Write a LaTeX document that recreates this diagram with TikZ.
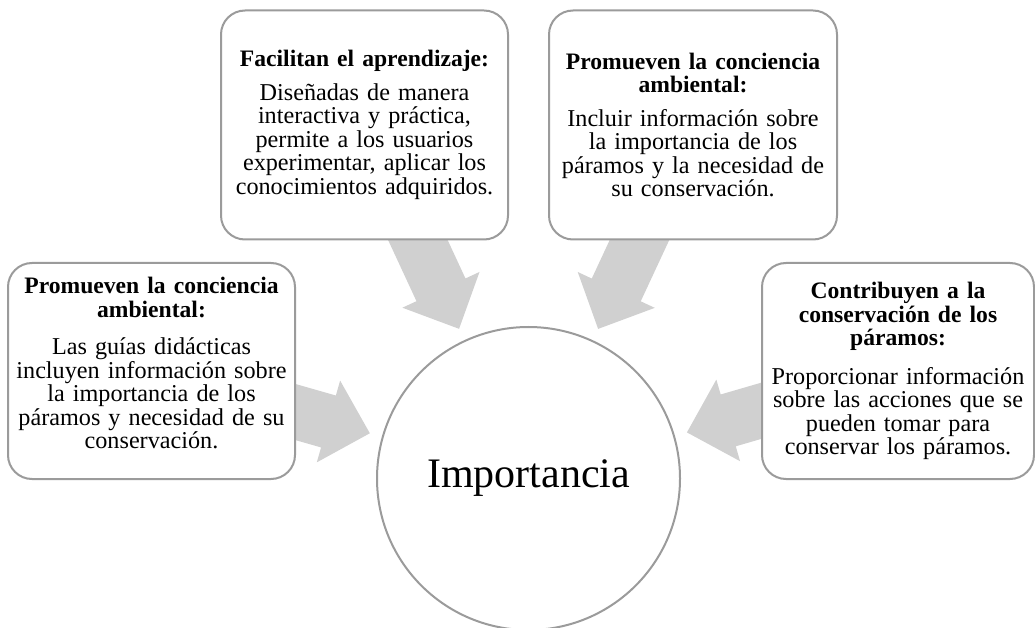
\documentclass[tikz,border=0pt]{standalone}
\usepackage{fontspec}
\setmainfont{Liberation Serif}
\usetikzlibrary{positioning,calc,backgrounds}
\definecolor{linegray}{RGB}{155,155,155}
\definecolor{arrowgray}{RGB}{208,208,208}
\newcommand{\hd}[2][10pt]{{\fontsize{23.6}{23.5}\selectfont\bfseries #2\par}\vspace{#1}}

\begin{document}
\begin{tikzpicture}[x=1pt,y=1pt,
        box/.style={draw=linegray, line width=2pt, rounded corners=24pt, fill=white, align=center, inner sep=1pt, font=\fontsize{24.2}{23.5}\selectfont},
        hub/.style={circle, draw=linegray, line width=2pt, fill=white, minimum size=303pt, inner sep=0pt, font=\fontsize{42}{48}\selectfont},
        bigarrow/.style={fill=arrowgray, to path={
            ($(\tikztotarget)!300pt!(\tikztostart)$) coordinate (s)
            ($(\tikztotarget)!208pt!(\tikztostart)$) coordinate (h)
            ($(\tikztotarget)!165pt!(\tikztostart)$) coordinate (p)
            ($(s)!27pt!90:(\tikztostart)$) -- ($(h)!27pt!90:(\tikztostart)$) -- ($(h)!42.5pt!90:(\tikztostart)$)
            -- (p) -- ($(h)!42.5pt!-90:(\tikztostart)$) -- ($(h)!27pt!-90:(\tikztostart)$) -- ($(s)!27pt!-90:(\tikztostart)$) -- cycle}}]
        \useasboundingbox (0,0) rectangle (1035,627);
        \node[hub] (imp) at (528.5,148.5) {Importancia};
        \node[box, text width=285pt, minimum height=229pt] (aprend) at (364.5,502) {\hd{Facilitan el aprendizaje:}Diseñadas de manera\\ interactiva y práctica,\\ permite a los usuarios\\ experimentar, aplicar los\\ conocimientos adquiridos.};
        \node[box, text width=286pt, minimum height=229pt] (concA) at (693,502) {\hd{Promueven la conciencia\\ ambiental:}Incluir información sobre\\ la importancia de los\\ páramos y la necesidad de\\ su conservación.};
        \node[box, text width=285pt, minimum height=216pt] (concB) at (151.5,256) {\hd[14pt]{Promueven la conciencia\\ ambiental:}Las guías didácticas\\ incluyen información sobre\\ la importancia de los\\ páramos y necesidad de su\\ conservación.\par\vspace{16pt}\hrule height 0pt};
        \node[box, text width=270pt, minimum height=216pt] (cons) at (898,256) {\hd[15pt]{Contribuyen a la\\ conservación de los\\ páramos:}Proporcionar información\\ sobre las acciones que se\\ pueden tomar para\\ conservar los páramos.};
        \begin{scope}[on background layer]
        \fill[bigarrow] (aprend) to (imp);
        \fill[bigarrow] (concA) to (imp);
        \fill[bigarrow] (concB) to (imp);
        \fill[bigarrow] (cons) to (imp);
        \end{scope}
    \end{tikzpicture}
\end{document}
